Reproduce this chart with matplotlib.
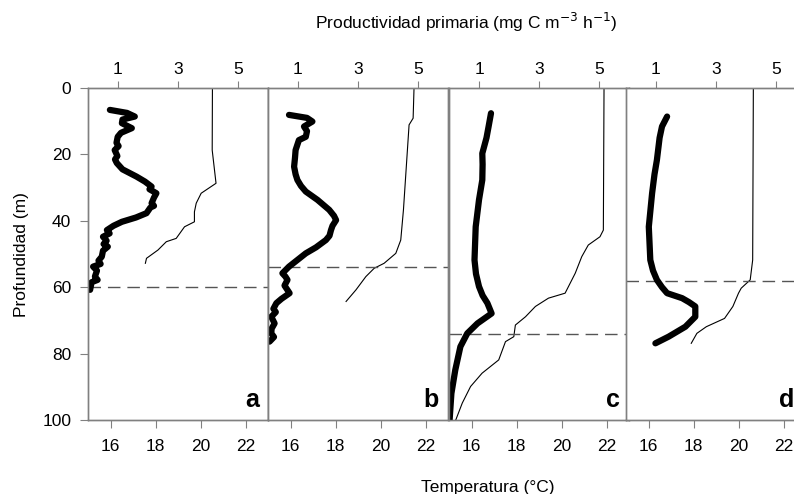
import matplotlib.pyplot as plt

plt.rcParams['font.family'] = ['Liberation Sans', 'DejaVu Sans']

panel_labels = ['a', 'b', 'c', 'd']
mixed_depth = [60, 54, 74, 58]

# temperature profiles (thin line, bottom axis)
temp_depth_a = [0, 18.7, 28.7, 29.7, 31.7, 34.7, 37.3, 40.3, 41.8, 45.3, 46.3, 48.8, 51.3, 52.8]
temp_a = [20.53, 20.52, 20.69, 20.47, 20.03, 19.81, 19.73, 19.73, 19.29, 18.92, 18.48, 18.11, 17.60, 17.55]
temp_depth_b = [0, 9.1, 11.1, 36.7, 45.8, 49.8, 52.8, 54.3, 56.8, 60.8, 64.3]
temp_b = [21.49, 21.45, 21.27, 21.02, 20.90, 20.68, 20.16, 19.72, 19.35, 18.91, 18.47]
temp_depth_c = [0, 42.8, 44.8, 47.3, 50.8, 55.8, 61.8, 63.3, 65.8, 68.9, 71.4, 74.9, 76.4, 81.9, 85.9, 89.9, 94.9, 100]
temp_c = [21.89, 21.86, 21.71, 21.19, 20.90, 20.61, 20.16, 19.42, 18.84, 18.40, 17.95, 17.88, 17.51, 17.21, 16.47, 15.96, 15.59, 15.30]
temp_depth_d = [0, 51.8, 57.8, 60.3, 61.8, 65.8, 69.4, 71.9, 73.9, 76.9]
temp_d = [20.66, 20.63, 20.52, 20.12, 20.0, 19.75, 19.38, 18.57, 18.15, 17.90]

# primary productivity profiles (thick line, top axis)
prod_depth_a = [6.6, 7.5, 8.6, 9.5, 10.6, 12.1, 13.5, 14.7, 16.5, 17.5, 18.7, 20.5, 21.5, 22.6, 24.5,
                26.7, 28.2, 29.7, 30.5, 31.7, 33.0, 34.7, 35.5, 36.0, 37.7, 39.0, 40.3, 41.5, 42.8,
                43.8, 44.8, 46.0, 47.0, 47.8, 49.0, 50.8, 52.0, 53.0, 53.8, 55.0, 56.8, 57.8, 58.5, 60.8]
prod_a = [0.73, 1.3, 1.56, 1.15, 1.13, 1.46, 1.1, 0.99, 0.95, 1.02, 0.89, 0.98, 0.9, 0.96, 1.15,
          1.62, 1.9, 2.12, 2.05, 2.28, 2.2, 2.12, 2.2, 2.08, 1.95, 1.6, 1.13, 0.85, 0.63,
          0.72, 0.50, 0.62, 0.52, 0.66, 0.5, 0.46, 0.35, 0.42, 0.17, 0.3, 0.23, 0.32, 0.12, 0.07]
prod_depth_b = [8.1, 9.0, 10.1, 11.6, 13.0, 14.7, 15.7, 18.7, 21, 23.7, 26, 27.7, 29.5, 31.2, 33.7,
                36.7, 38.5, 39.8, 41.5, 42.8, 44.5, 45.8, 48, 49.8, 51.8, 53.8, 55.8, 56.8, 57.8,
                59.5, 61.8, 63.5, 64.8, 66.5, 67.5, 68.9, 70.9, 72.5, 73.9, 75.0, 76.4]
prod_b = [0.7, 1.3, 1.48, 1.2, 1.3, 1.26, 1.03, 0.92, 0.9, 0.87, 0.92, 0.98, 1.1, 1.26, 1.65,
          2.04, 2.2, 2.27, 2.15, 2.1, 2.05, 1.93, 1.6, 1.26, 0.98, 0.7, 0.48, 0.58, 0.65,
          0.55, 0.72, 0.45, 0.28, 0.18, 0.26, 0.11, 0.22, 0.12, 0.11, 0.2, 0.05]
prod_depth_c = [7.6, 11.6, 15, 19.7, 23, 27.7, 33.7, 41.8, 51.8, 56, 59.8, 62.5, 64.8, 67.9,
                70.9, 73.9, 77.9, 84.9, 92, 100]
prod_c = [1.4, 1.32, 1.25, 1.11, 1.12, 1.11, 1.0, 0.89, 0.85, 0.9, 1.0, 1.12, 1.28, 1.42,
          0.95, 0.61, 0.38, 0.21, 0.08, 0.02]
prod_depth_d = [8.6, 11.6, 15, 21.7, 26, 31.7, 41.8, 51.8, 55, 57.8, 60, 61.8, 63.3, 64.5,
                65.8, 68.9, 71.9, 74.9, 76.9]
prod_d = [1.37, 1.2, 1.12, 1.03, 0.95, 0.87, 0.76, 0.81, 0.9, 1.03, 1.2, 1.37, 1.87, 2.1,
          2.31, 2.31, 1.98, 1.42, 0.98]

temps = [(temp_depth_a, temp_a), (temp_depth_b, temp_b), (temp_depth_c, temp_c), (temp_depth_d, temp_d)]
prods = [(prod_depth_a, prod_a), (prod_depth_b, prod_b), (prod_depth_c, prod_c), (prod_depth_d, prod_d)]

W, H = 794, 494
gray = '#808080'
fig = plt.figure(figsize=(W / 100, H / 100), dpi=100)
lefts = [88, 268, 449, 626]

for i in range(4):
    ax = fig.add_axes([lefts[i] / W, 74 / H, 180 / W, 332 / H])
    ax.plot(temps[i][1], temps[i][0], color='black', lw=0.8)
    ax.set_xlim(15, 23)
    ax.set_ylim(100, 0)
    ax.set_xticks([16, 18, 20, 22])
    ax.axhline(mixed_depth[i], color='#555555', lw=1, dashes=(9, 5))
    ax.tick_params(axis='x', direction='out', length=6, color=gray, labelsize=12.5, pad=8)
    if i == 0:
        ax.set_yticks([0, 20, 40, 60, 80, 100])
        ax.tick_params(axis='y', direction='out', length=6, color=gray, labelsize=12.5, pad=6)
    else:
        ax.tick_params(axis='y', left=False, labelleft=False)
    xlab = 0.935 if i == 3 else 0.95
    ax.text(xlab, 0.025, panel_labels[i], transform=ax.transAxes, ha='right', va='bottom',
            fontsize=18, fontweight='bold')

    top = ax.twiny()
    top.plot(prods[i][1], prods[i][0], color='black', lw=4.5,
             solid_joinstyle='round', solid_capstyle='round')
    top.set_xlim(0, 6)
    top.set_xticks([1, 3, 5])
    top.tick_params(axis='x', direction='out', length=5, color=gray, labelsize=12.5, pad=3)
    for a in (ax, top):
        for s in a.spines.values():
            s.set_color(gray)
            s.set_linewidth(1)

fig.text(22 / W, 1 - 255 / H, 'Profundidad (m)', rotation=90, ha='center', va='center', fontsize=12.5)
fig.text(488 / W, 1 - 487 / H, 'Temperatura (°C)', ha='center', va='center', fontsize=12.5)
fig.text(466 / W, 1 - 22 / H, 'Productividad primaria (mg C m$^{-3}$ h$^{-1}$)',
         ha='center', va='center', fontsize=12.5)

fig.savefig('out.png', dpi=100)
